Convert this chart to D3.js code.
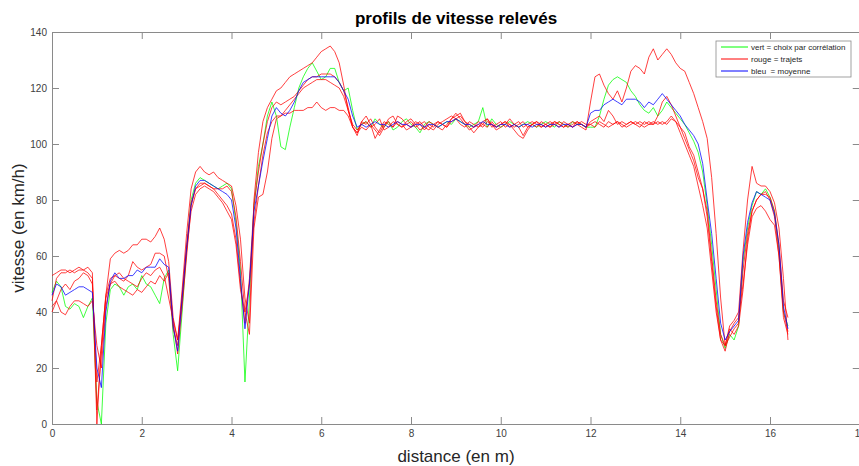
<!DOCTYPE html>
<html>
<head>
<meta charset="utf-8">
<script src="https://cdn.jsdelivr.net/npm/d3@7"></script>
<style>
  body { margin: 0; background: #fff; }
  svg { display: block; font-family: "Liberation Sans", Arial, sans-serif; }
</style>
</head>
<body>
<svg id="chart"></svg>
<script>
// speeds sampled every 0.1 m, from 0 to 16.4
const distanceStep = 0.1;

const green = [
  47, 51, 49, 42, 41, 43, 42, 38, 42, 45,
  8, 0, 36, 48, 50, 49, 46, 49, 50, 48,
  53, 50, 49, 46, 43, 52, 55, 32, 19, 40,
  62, 80, 86, 88, 87, 86, 85, 84, 85, 86,
  84, 72, 55, 15, 45, 78, 92, 100, 110, 115,
  110, 99, 98, 106, 113, 120, 124, 127, 129, 126,
  123, 124, 127, 127, 122, 119, 120, 112, 105, 107,
  108, 106, 109, 107, 106, 108, 105, 106, 108, 109,
  107, 106, 104, 107, 108, 107, 106, 107, 108, 107,
  109, 108, 107, 106, 107, 108, 113, 106, 109, 107,
  106, 107, 108, 107, 106, 107, 108, 107, 106, 107,
  108, 107, 106, 108, 107, 106, 108, 107, 107, 106,
  106, 106, 110, 116, 121, 123, 124, 123, 122, 119,
  117, 114, 112, 111, 113, 110, 112, 115, 113, 111,
  109, 107, 104, 101, 97, 90, 78, 64, 48, 32,
  27, 32, 30, 35, 58, 70, 78, 83, 82, 84,
  81, 76, 62, 40, 35
];

const blue = [
  46, 50, 49, 46, 47, 48, 49, 49, 48, 47,
  20, 13, 40, 51, 54, 52, 52, 53, 53, 55,
  54, 56, 56, 56, 59, 57, 56, 35, 26, 45,
  63, 78, 85, 87, 87, 86, 85, 84, 83, 82,
  80, 70, 52, 34, 50, 76, 85, 94, 102, 110,
  113, 111, 110, 112, 115, 119, 122, 123, 124, 124,
  124, 124, 124, 124, 122, 119, 116, 110, 106, 107,
  106, 107, 108, 107, 107, 106, 107, 108, 107, 107,
  106, 107, 107, 106, 107, 107, 106, 107, 108, 108,
  109, 108, 107, 107, 106, 107, 108, 107, 107, 106,
  107, 107, 106, 107, 106, 107, 107, 106, 107, 107,
  106, 107, 107, 106, 107, 107, 106, 107, 107, 106,
  111, 112, 112, 114, 115, 116, 115, 114, 116, 116,
  116, 115, 113, 115, 114, 116, 118, 116, 114, 112,
  110, 107, 105, 103, 100, 93, 80, 68, 52, 36,
  30, 33, 35, 37, 60, 72, 79, 83, 82, 81,
  80, 75, 64, 42, 34
];

const redTrips = [
  [
    53, 54, 55, 55, 54, 55, 56, 55, 56, 54,
    0, 28, 46, 59, 61, 62, 61, 62, 64, 64,
    66, 66, 65, 67, 70, 66, 58, 38, 30, 48,
    68, 84, 90, 92, 90, 89, 90, 88, 87, 86,
    85, 78, 66, 45, 36, 80, 97, 108, 113, 116,
    119, 120, 122, 124, 125, 126, 127, 128, 129, 131,
    133, 134, 135, 133, 129, 121, 112, 106, 104, 108,
    110, 107, 105, 103, 106, 109, 110, 107, 106, 108,
    109, 107, 105, 106, 108, 107, 106, 105, 107, 109,
    110, 111, 108, 106, 104, 106, 108, 109, 107, 106,
    107, 108, 107, 105, 103, 102, 105, 107, 108, 107,
    106, 107, 108, 107, 106, 107, 108, 107, 106, 105,
    115, 124, 125, 121, 118, 116, 119, 115, 120, 126,
    128, 127, 125, 131, 134, 130, 132, 134, 132, 129,
    127, 126, 122, 118, 113, 108, 102, 88, 68, 45,
    28, 35, 37, 40, 62, 80, 92, 86, 85, 85,
    83, 79, 70, 52, 30
  ],
  [
    44, 52, 54, 54, 55, 54, 55, 55, 54, 52,
    5, 25, 45, 50, 53, 52, 51, 53, 58, 56,
    55, 56, 57, 61, 61, 60, 52, 34, 28, 46,
    64, 79, 84, 86, 86, 85, 84, 82, 80, 78,
    75, 66, 50, 36, 52, 78, 90, 100, 108, 113,
    115, 114, 115, 116, 117, 119, 121, 123, 124, 124,
    125, 125, 125, 124, 122, 119, 113, 106, 103, 108,
    107, 109, 106, 104, 107, 108, 106, 110, 109, 107,
    106, 108, 107, 105, 107, 106, 108, 107, 106, 108,
    109, 110, 108, 107, 106, 108, 107, 106, 108, 106,
    107, 108, 106, 107, 108, 106, 107, 108, 107, 106,
    107, 108, 107, 106, 108, 107, 106, 107, 108, 107,
    107, 108, 107, 106, 108, 107, 108, 106, 107, 108,
    107, 106, 108, 107, 107, 110, 115, 117, 114, 110,
    106, 102, 98, 94, 88, 84, 76, 60, 44, 32,
    28, 31, 34, 36, 55, 68, 76, 80, 82, 83,
    80, 74, 60, 40, 33
  ],
  [
    42, 44, 40, 39, 42, 44, 44, 43, 42, 44,
    28, 20, 42, 50, 51, 49, 48, 47, 46, 48,
    47, 49, 51, 50, 53, 51, 54, 36, 25, 42,
    60, 78, 84, 85, 86, 85, 84, 84, 84, 85,
    83, 74, 58, 40, 50, 72, 85, 96, 104, 108,
    110, 110, 111, 111, 112, 112, 112, 113, 113, 115,
    113, 112, 113, 113, 112, 112, 110, 106, 104, 106,
    105, 107, 102, 105, 108, 107, 106, 108, 107, 105,
    106, 107, 108, 106, 105, 107, 108, 107, 106, 109,
    111, 109, 107, 105, 106, 107, 106, 108, 107, 105,
    106, 107, 109, 107, 106, 103, 106, 107, 106, 108,
    107, 106, 107, 108, 107, 106, 107, 108, 107, 106,
    108, 109, 110, 108, 112, 110, 107, 108, 107, 108,
    107, 108, 107, 108, 107, 108, 107, 108, 110, 108,
    104, 100, 96, 92, 85, 78, 70, 55, 40, 30,
    26, 33, 36, 38, 50, 64, 74, 77, 78, 76,
    73, 71, 60, 38, 32
  ],
  [
    40, 44, 48, 50, 48, 51, 52, 54, 53, 50,
    15, 28, 46, 52, 53, 54, 52, 51, 50, 49,
    52, 54, 53, 55, 56, 53, 45, 37, 30, 44,
    62, 76, 82, 84, 85, 84, 83, 81, 79, 76,
    73, 64, 48, 40, 32, 70, 81, 82, 90, 102,
    109, 110, 112, 114, 116, 118, 120, 121, 122, 123,
    123, 123, 122, 121, 120, 117, 112, 107, 105, 107,
    108, 106, 107, 109, 105, 106, 108, 107, 106, 107,
    108, 106, 107, 108, 106, 105, 107, 108, 109, 110,
    109, 107, 106, 108, 107, 106, 107, 109, 106, 107,
    108, 106, 107, 106, 107, 108, 106, 107, 108, 106,
    107, 106, 108, 107, 106, 107, 106, 108, 107, 106,
    107, 106, 108, 107, 106, 107, 108, 107, 106, 107,
    108, 107, 106, 107, 108, 107, 108, 107, 109, 108,
    106, 104, 99, 96, 90, 84, 74, 58, 42, 30,
    28, 34, 32, 35, 48, 66, 76, 80, 82, 82,
    81, 76, 64, 44, 38
  ]
];

const xTicks = [0, 2, 4, 6, 8, 10, 12, 14, 16, 18];
const yTicks = [0, 20, 40, 60, 80, 100, 120, 140];
const legendLabels = ["vert = choix par corrélation", "rouge = trajets", "bleu  = moyenne"];
const legendColors = ["#00ff00", "#ff0000", "#0000ff"];

const width = 859, height = 466;
const svg = d3.select("#chart").attr("width", width).attr("height", height);

const x = d3.scaleLinear().domain([0, 18]).range([52, 859.75]);
const y = d3.scaleLinear().domain([0, 140]).range([424, 32]);

const distance = d3.range(green.length).map(i => +(i * distanceStep).toFixed(1));

const line = d3.line()
  .defined(d => d != null)
  .x((d, i) => x(distance[i]))
  .y(d => y(d));

// axes (ticks point inward like matlab)
const axisColor = "#8a8a8a";
function styleAxis(g) {
  g.select(".domain").attr("stroke", axisColor);
  g.selectAll(".tick line").attr("stroke", axisColor);
  g.selectAll(".tick text").attr("fill", "#404040").attr("font-size", 10);
}

svg.append("g")
  .attr("transform", `translate(0,${y(0)})`)
  .call(d3.axisBottom(x).tickValues(xTicks).tickSizeInner(-7).tickSizeOuter(0).tickPadding(6))
  .call(styleAxis);

svg.append("g")
  .attr("transform", `translate(0,${y(140)})`)
  .call(d3.axisTop(x).tickValues(xTicks).tickSizeInner(-7).tickSizeOuter(0).tickFormat(""))
  .call(styleAxis);

svg.append("g")
  .attr("transform", `translate(${x(0)},0)`)
  .call(d3.axisLeft(y).tickValues(yTicks).tickSizeInner(-7).tickSizeOuter(0).tickPadding(5))
  .call(styleAxis);

svg.append("g")
  .attr("transform", `translate(${x(18)},0)`)
  .call(d3.axisRight(y).tickValues(yTicks).tickSizeInner(-7).tickSizeOuter(0).tickFormat(""))
  .call(styleAxis);

// curves
const plot = svg.append("g").attr("fill", "none").attr("stroke-width", 0.75);

plot.append("path").datum(green).attr("stroke", "#00ff00").attr("d", line);

plot.selectAll(".trip")
  .data(redTrips)
  .join("path")
  .attr("class", "trip")
  .attr("stroke", "#ff0000")
  .attr("d", line);

plot.append("path").datum(blue).attr("stroke", "#0000ff").attr("d", line);

// titles
svg.append("text")
  .attr("x", 456).attr("y", 24)
  .attr("text-anchor", "middle")
  .attr("font-size", 17).attr("font-weight", "bold")
  .text("profils de vitesse relevés");

svg.append("text")
  .attr("x", 456).attr("y", 462)
  .attr("text-anchor", "middle")
  .attr("font-size", 17).attr("fill", "#262626")
  .text("distance (en m)");

svg.append("text")
  .attr("transform", `translate(24,${(y(0) + y(140)) / 2}) rotate(-90)`)
  .attr("text-anchor", "middle")
  .attr("font-size", 17).attr("fill", "#262626")
  .text("vitesse (en km/h)");

// legend
const legend = svg.append("g").attr("transform", "translate(716,41)");
legend.append("rect")
  .attr("width", 135).attr("height", 36)
  .attr("fill", "#fff").attr("stroke", "#8a8a8a").attr("stroke-width", 0.8);

legendLabels.forEach((label, i) => {
  const yy = 6 + i * 12;
  legend.append("line")
    .attr("x1", 5).attr("x2", 32).attr("y1", yy).attr("y2", yy)
    .attr("stroke", legendColors[i]).attr("stroke-width", 1);
  legend.append("text")
    .attr("x", 35).attr("y", yy + 3)
    .attr("font-size", 8).attr("fill", "#262626")
    .style("white-space", "pre")
    .text(label);
});
</script>
</body>
</html>
